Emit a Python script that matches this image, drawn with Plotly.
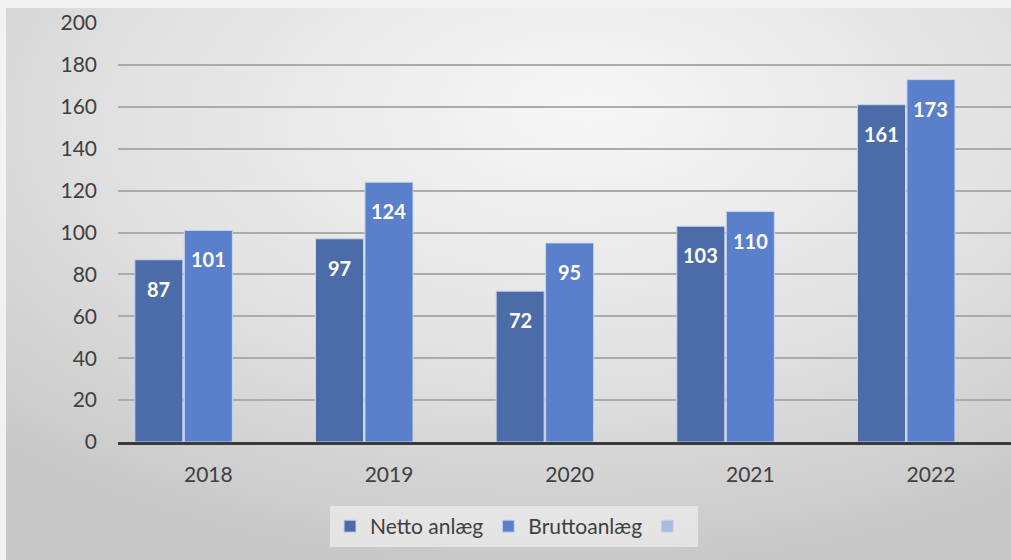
import base64
import plotly.graph_objects as go

years = ["2018", "2019", "2020", "2021", "2022"]
netto = [87, 97, 72, 103, 161]
brutto = [101, 124, 95, 110, 173]
third = [None, None, None, None, None]
series_names = ["Netto anlæg", "Bruttoanlæg", " "]
y_ticks = [0, 20, 40, 60, 80, 100, 120, 140, 160, 180, 200]

colors = ["#4b6ca8", "#5a80cb", "#a9bbe0"]
FONT = "Lato"

svg = """<svg xmlns='http://www.w3.org/2000/svg' width='1005' height='552' viewBox='0 0 1005 552' preserveAspectRatio='none'>
<defs><radialGradient id='g' cx='0.55' cy='0.22' r='0.8' fx='0.58' fy='0.18'>
<stop offset='0' stop-color='#f7f7f7'/><stop offset='0.55' stop-color='#e2e2e2'/><stop offset='1' stop-color='#c8c8c8'/></radialGradient></defs>
<rect width='1005' height='552' fill='url(#g)'/></svg>"""
src = "data:image/svg+xml;base64," + base64.b64encode(svg.encode()).decode()

BARGAP = 0.178
slot = (1 - BARGAP) / 3

fig = go.Figure()
for name, vals, col in zip(series_names, [netto, brutto, third], colors):
    fig.add_trace(go.Bar(
        x=years, y=vals, name=name,
        marker=dict(color=col, line=dict(color="#c9d5ec", width=1)),
        showlegend=True,
    ))

for i, (a, b) in enumerate(zip(netto, brutto)):
    for val, off in ((a, -slot), (b, 0.0)):
        fig.add_annotation(
            x=i + off, y=val, xref="x", yref="y", text=f"<b>{val}</b>",
            showarrow=False, yanchor="top", yshift=-15,
            font=dict(family=FONT, size=20, color="white"),
        )

W, H = 1011, 560
l, r, t, b = 118, 0, 23, 118
pw, ph = W - l - r, H - t - b
fig.add_layout_image(
    source=src, xref="paper", yref="paper",
    x=(6 - l) / pw, y=1 + (t - 8) / ph,
    sizex=(W - 6) / pw, sizey=(H - 8) / ph,
    xanchor="left", yanchor="top", sizing="stretch", layer="below",
)

fig.update_layout(
    width=W, height=H,
    margin=dict(l=l, r=r, t=t, b=b),
    paper_bgcolor="#f2f2f2", plot_bgcolor="rgba(0,0,0,0)",
    barmode="group", bargap=BARGAP, bargroupgap=0.03,
    font=dict(family=FONT, size=21, color="#404040"),
    legend=dict(
        orientation="h", x=(514 - l) / pw, xanchor="center",
        y=-(506 - (H - b)) / ph, yanchor="top",
        bgcolor="rgba(236,236,236,0.75)", font=dict(size=21, color="#404040"),
        traceorder="normal",
    ),
    xaxis=dict(
        range=[-0.5, 4.443], showgrid=False, ticks="",
        showline=True, linecolor="#3a3a3a", linewidth=3,
        ticklabelstandoff=12, tickfont=dict(size=21),
    ),
    yaxis=dict(
        range=[0, 200], tickvals=y_ticks, showgrid=True,
        gridcolor="#ababab", gridwidth=1.5, zeroline=False,
        ticks="", ticklabelstandoff=20, tickfont=dict(size=21),
        showline=False,
    ),
)

fig.write_html("out.html")
